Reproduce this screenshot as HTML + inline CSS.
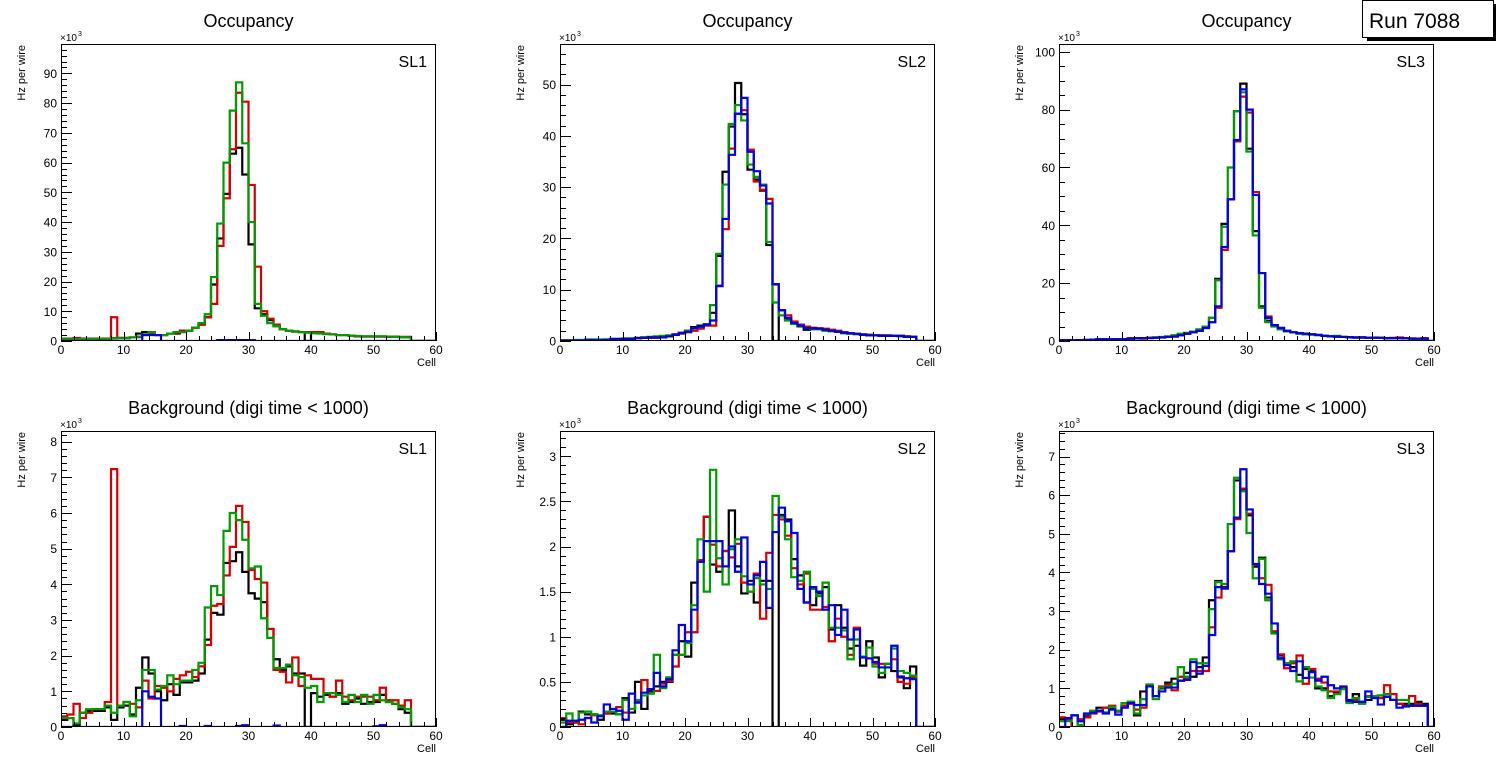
<!DOCTYPE html>
<html><head><meta charset="utf-8">
<style>
html,body{margin:0;padding:0;background:#fff;}
svg{display:block;font-family:"Liberation Sans",sans-serif;}
</style></head>
<body>
<svg id="root" width="1496" height="772" viewBox="0 0 1496 772">
<rect x="0" y="0" width="1496" height="772" fill="#fff"/>
<g>
<rect x="1367" y="37" width="129" height="4" fill="#000"/>
<rect x="1493" y="4" width="3" height="37" fill="#000"/>
<rect x="1362.5" y="0.5" width="131" height="37" fill="#fff" stroke="#000" stroke-width="1"/>
<text x="1369" y="28" font-size="21" fill="#000">Run 7088</text>
</g>
</svg>
<script>
// ---- data (values in units of 10^3 Hz per wire, 60 bins of Cell) ----
const occSL1Black=[0.7,0.7,0.7,0.7,0.7,0.7,0.7,0.7,0.9,1,1,1.2,2.5,3,3,2,2,2.5,2.5,3,3.5,4.5,5.5,8,19,34.5,49.5,63,65,56,32.5,11,9,7,5,4,3.5,3.2,3,0,2.8,2.6,2.4,2.2,2,2,1.8,1.6,1.5,1.5,1.5,1.5,1.4,1.4,1.3,1.2,0,0,0,0];
const occSL1Red=[0.8,0.8,1,0.8,0.8,0.8,0.8,0.8,8,1,1,1.2,1.3,2,2.5,2,2,2.5,2.8,3.5,3.5,4.5,5.5,8,12.5,32,48,64.5,83.5,80.5,52.5,25,10,7.5,5.5,4,3.5,3.2,3,3,3,3,2.5,2.2,2,2,1.8,1.6,1.5,1.5,1.5,1.5,1.4,1.5,1.4,1.4,0,0,0,0];
const occSL1Green=[0.7,0.7,0.7,0.7,0.7,0.7,0.7,0.7,1,1,1,1.2,1.5,2.2,3,2,2,2.5,3,3,3.5,4.5,6,9,21.5,39.5,60,77.5,87,66.5,40,12.5,8.5,6,5,4,3.5,3.2,3,2.8,2.6,2.5,2.3,2.2,2,2,1.8,1.7,1.6,1.6,1.6,1.6,1.5,1.4,1.3,1.2,0,0,0,0];
const occSL1Blue=[0,0,0,0,0,0,0,0,0,0,0,0,0,2,2,2,0,0,0,0,0,0,0,0,0,0.3,0.3,0.3,0.3,0.3,0.3,0,0,0,0,0,0,0,0,0,0,0,0,0,0,0,0,0,0,0,0,0,0,0,0,0,0,0,0,0];

const occSL2Black=[0.1,0.1,0.1,0.1,0.2,0.2,0.2,0.3,0.4,0.4,0.5,0.5,0.6,0.7,0.7,0.8,0.9,1,1.3,1.6,2,2.7,3,3.2,5.5,16.6,33,41.8,50.3,44.2,33.4,31.5,29.3,18.7,0,6,4.3,3.5,3,2.2,2.3,2.3,2.2,2.1,1.9,1.7,1.5,1.4,1.3,1.2,1.1,1.1,1.1,1,1,0.9,0.8,0,0,0];
const occSL2Red=[0.1,0.1,0.1,0.1,0.2,0.2,0.2,0.2,0.3,0.4,0.4,0.5,0.5,0.6,0.6,0.6,0.8,1,1.3,1.4,1.7,2,2.4,3,3,10.8,21.8,37.5,44.3,45,37.3,31.1,29.5,27.7,11,6,5,3.8,3.2,2.8,2.6,2.5,2.4,2.2,2,1.7,1.5,1.4,1.3,1.2,1.1,1.1,1,1,1,0.9,0.8,0,0,0];
const occSL2Green=[0.1,0.1,0.2,0.2,0.3,0.3,0.3,0.3,0.4,0.4,0.5,0.5,0.6,0.7,0.8,0.9,1,1.1,1.2,1.5,2,2.5,2.8,3.3,7,17,30.5,42.3,46,43,34.4,32,30.5,19.3,7.5,5,4,3.3,2.8,2.5,2.4,2.3,2,1.9,1.8,1.5,1.4,1.3,1.2,1.1,1.1,1,1,1,0.9,0.8,0.8,0,0,0];
const occSL2Blue=[0.1,0.1,0.1,0.1,0.2,0.2,0.2,0.2,0.4,0.4,0.4,0.4,0.6,0.6,0.7,0.7,0.7,0.9,1.2,1.6,1.8,2.5,2.8,3.2,4,10.7,23.8,36.3,44.3,47.4,36.9,33.1,30.3,26.8,11.1,6,4.5,3.5,3,2.5,2.5,2.4,2.2,2,1.8,1.6,1.5,1.4,1.2,1.1,1.1,1,1,1,1,0.8,0.8,0,0,0];

const occSL3Black=[0.3,0.3,0.3,0.3,0.4,0.5,0.6,0.6,0.6,0.6,0.6,0.8,0.9,1,1.1,1.2,1.3,1.5,1.8,2.2,2.7,3.2,4,5,8,21.5,40.5,49,79.5,89,66.5,38,12,7,5.5,4.5,3.5,3,2.7,2.5,2.3,2.1,1.8,1.6,1.5,1.4,1.3,1.2,1.2,1.1,1.1,1.1,1,1,1,0.9,0.8,0.8,0.8,0];
const occSL3Red=[0.3,0.2,0.2,0.3,0.4,0.5,0.6,0.6,0.6,0.6,0.6,1,1,0.8,1.1,1.2,1.3,1.5,1.6,2,2.5,3,3.5,4.5,6.5,11.5,31.5,49,69,84.5,79,51.5,23.5,8.5,5.5,4.5,3.5,3,2.7,2.5,2.3,2.1,1.8,1.6,1.5,1.4,1.3,1.2,1.3,1.1,1.2,1.1,1,1.1,1.2,1,0.9,0.8,1,0];
const occSL3Green=[0.3,0.3,0.3,0.3,0.4,0.5,0.6,0.6,0.6,0.6,0.6,0.8,0.9,1,1.1,1.2,1.4,1.6,2,2.5,2.8,3.2,4,5,8,21,39.5,60,79.5,86,65.5,36.5,11.5,6.5,5,4,3.3,3,2.5,2.3,2.2,2,1.8,1.6,1.8,1.4,1.3,1.2,1.2,1.1,1.1,1.1,1,1,1,0.9,0.8,0.8,0.7,0];
const occSL3Blue=[0.3,0.3,0.3,0.3,0.3,0.5,0.6,0.6,0.6,0.6,0.6,0.8,0.9,1,1,1.1,1.2,1.4,1.5,2,2.5,3,3.5,4.5,6.5,12,32.5,49,69.5,87,80,50.5,23.5,8,5.5,4.5,3.5,3,2.7,2.5,2.3,2.1,1.8,1.6,1.5,1.4,1.3,1.2,1.2,1.1,1.1,1.1,1,1,1,0.9,0.8,0.8,0.8,0];

const bkgSL1Black=[0.2,0.25,0.05,0.4,0.45,0.45,0.45,0.55,0.2,0.55,0.6,0.35,1.1,1.95,1.5,1.0,0.75,1.2,0.9,1.25,1.25,1.3,1.5,2.45,3.2,3.15,4.6,4.65,4.9,4.35,3.75,3.6,3.5,2.75,1.9,1.6,1.7,1.5,1.5,0,0.95,0.85,0.9,0.85,0.95,0.65,0.7,0.8,0.65,0.7,0.7,0.9,0.7,0.65,0.5,0.4,0,0,0,0];
const bkgSL1Red=[0.3,0.35,0.65,0.25,0.4,0.5,0.5,0.7,7.23,0.6,0.7,0.65,0.55,1.3,0.8,1.15,1.1,1.0,1.35,1.45,1.55,1.4,1.7,2.3,3.4,3.45,4.25,5.05,6.2,5.75,4.4,4.15,4.05,2.75,1.6,1.55,1.25,1.95,1.15,1.45,1.35,1.35,0.95,0.85,1.3,0.85,0.75,0.85,0.85,0.85,0.75,1.1,0.75,0.75,0.6,0.75,0,0,0,0];
const bkgSL1Green=[0.25,0.25,0.1,0.4,0.5,0.5,0.5,0.6,0.4,0.6,0.7,0.3,0.75,1.6,1.6,1.05,1.15,1.45,1.2,1.3,1.3,1.6,1.8,3.35,3.95,3.7,5.5,6.0,5.8,5.25,4.45,4.5,3.05,2.5,1.65,1.65,1.75,1.45,1.4,1.1,1.15,0.7,0.95,0.95,0.9,0.7,0.9,0.7,0.9,0.65,0.9,0.75,0.7,0.65,0.55,0.5,0,0,0,0];
const bkgSL1Blue=[0,0,0,0,0,0,0,0,0,0,0,0,0,1.0,0.85,0.8,0,0,0,0.03,0,0,0,0.03,0,0,0,0,0.03,0.05,0,0,0,0,0.04,0,0,0,0,0,0,0,0,0,0,0,0,0,0,0,0.02,0.05,0,0,0,0,0,0,0,0];

const bkgSL2Black=[0.08,0.03,0.05,0.17,0.14,0.14,0.08,0.15,0.15,0.14,0.32,0.16,0.5,0.2,0.4,0.45,0.5,0.5,0.8,0.95,0.78,1.6,1.85,2.33,1.8,1.72,1.95,2.4,1.78,1.48,1.62,1.38,1.62,1.62,0,2.35,2.3,1.86,1.68,1.38,1.35,1.48,1.55,1.08,1.35,1.1,0.87,0.9,0.68,0.95,0.77,0.55,0.7,0.62,0.55,0.43,0.67,0,0,0];
const bkgSL2Red=[0.1,0.05,0.05,0.03,0.1,0.13,0.12,0.15,0.2,0.22,0.16,0.2,0.28,0.52,0.38,0.4,0.48,0.51,0.67,0.8,1.05,1.05,1.85,2.33,2.02,1.78,1.95,1.88,2.03,1.6,1.5,1.7,1.2,1.93,2.35,2.3,2.12,1.76,1.58,1.7,1.3,1.3,1.33,0.95,1.2,1.0,0.8,1.1,0.78,0.76,0.7,0.7,0.66,0.75,0.5,0.48,0.55,0,0,0];
const bkgSL2Green=[0.05,0.15,0.07,0.16,0.17,0.14,0.13,0.17,0.17,0.14,0.3,0.2,0.3,0.35,0.37,0.8,0.43,0.55,0.8,0.8,0.93,1.35,2.08,1.5,2.85,1.87,1.58,1.97,2.08,1.67,1.5,1.65,1.58,1.53,2.56,2.33,2.08,1.66,1.62,1.72,1.53,1.45,1.6,1.1,1.1,1.07,0.75,0.97,0.78,0.88,0.67,0.6,0.7,0.87,0.62,0.6,0.57,0,0,0];
const bkgSL2Blue=[0,0.07,0.07,0.08,0.1,0.05,0.12,0.25,0.2,0.18,0.08,0.37,0.27,0.38,0.42,0.6,0.45,0.53,0.85,1.13,0.95,1.3,1.83,2.06,2.06,2.06,1.78,2.0,1.72,2.1,1.58,1.68,1.83,1.32,2.16,2.43,2.28,2.15,1.53,1.38,1.55,1.5,1.3,1.35,1.02,1.3,0.97,1.08,0.77,0.76,0.72,0.66,0.66,0.9,0.56,0.54,0.53,0,0,0];

const bkgSL3Black=[0.2,0.2,0.3,0.15,0.3,0.4,0.5,0.5,0.5,0.4,0.55,0.65,0.3,0.92,1.05,0.8,1.0,1.15,1.25,1.2,1.4,1.3,1.55,1.8,3.28,3.78,3.62,4.55,6.38,6.15,5.48,4.15,4.38,3.35,2.45,1.85,1.65,1.55,1.35,1.5,1.45,1.0,1.0,0.8,0.9,1.0,0.7,0.85,0.65,0.7,0.8,0.75,0.85,0.7,0.6,0.6,0.6,0.65,0.6,0];
const bkgSL3Red=[0.25,0.2,0,0.2,0.25,0.35,0.4,0.5,0.55,0.4,0.55,0.6,0.45,0.5,1.05,0.8,1.05,1.1,0.95,1.3,1.25,1.45,1.45,1.45,2.58,3.35,3.6,4.55,5.38,6.17,5.52,4.2,3.85,3.68,2.48,1.88,1.52,1.65,1.85,1.12,1.5,1.25,1.15,0.92,0.92,1.02,0.65,0.7,0.65,0.8,0.8,0.75,1.08,0.85,0.6,0.55,0.8,0.6,0.55,0];
const bkgSL3Green=[0.15,0.15,0.3,0.05,0.33,0.42,0.42,0.38,0.52,0.42,0.62,0.65,0.35,0.72,1.1,0.72,1.02,1.05,1.12,1.55,1.3,1.75,1.65,1.65,3.05,3.75,3.7,5.25,6.45,6.1,5.02,3.85,4.35,3.28,2.42,1.75,1.65,1.7,1.18,1.55,1.28,1.05,0.95,0.75,0.85,0.98,0.62,0.75,0.6,0.78,0.8,0.82,0.85,0.7,0.7,0.7,0.55,0.55,0.55,0];
const bkgSL3Blue=[0,0.23,0.3,0.15,0.35,0.37,0.42,0.35,0.45,0.32,0.5,0.62,0.57,0.57,1.05,0.8,0.92,1.02,1.02,1.2,1.22,1.68,1.38,1.58,2.38,3.62,3.58,4.55,5.42,6.67,5.63,4.22,3.7,3.45,2.68,1.78,1.6,1.45,1.7,1.27,1.42,1.2,1.3,1.08,1.0,1.05,0.68,0.65,0.65,0.92,0.75,0.58,0.78,0.7,0.5,0.53,0.55,0.55,0.55,0];

const xTickLabels=["0","10","20","30","40","50","60"];
const seriesColors=["#000000","#d00000","#009900","#0000dd"];

const NS="http://www.w3.org/2000/svg";
const root=document.getElementById('root');
function mk(tag,attrs,parent){const e=document.createElementNS(NS,tag);for(const k in attrs)e.setAttribute(k,attrs[k]);(parent||root).appendChild(e);return e;}
function fmt(v){return (Math.round(v*100)/100).toString();}

const panels=[
 {id:'occupancy-sl1',title:'Occupancy',sl:'SL1',L:61,R:436,T:44,B:341,ymax:99.9,maj:10,min:2,series:[occSL1Black,occSL1Red,occSL1Green,occSL1Blue]},
 {id:'occupancy-sl2',title:'Occupancy',sl:'SL2',L:560,R:935,T:44,B:341,ymax:57.9,maj:10,min:2,series:[occSL2Black,occSL2Red,occSL2Green,occSL2Blue]},
 {id:'occupancy-sl3',title:'Occupancy',sl:'SL3',L:1059,R:1434,T:44,B:341,ymax:102.7,maj:20,min:5,series:[occSL3Black,occSL3Red,occSL3Green,occSL3Blue]},
 {id:'background-sl1',title:'Background (digi time < 1000)',sl:'SL1',L:61,R:436,T:431,B:727,ymax:8.3,maj:1,min:0.2,series:[bkgSL1Black,bkgSL1Red,bkgSL1Green,bkgSL1Blue]},
 {id:'background-sl2',title:'Background (digi time < 1000)',sl:'SL2',L:560,R:935,T:431,B:727,ymax:3.28,maj:0.5,min:0.1,series:[bkgSL2Black,bkgSL2Red,bkgSL2Green,bkgSL2Blue]},
 {id:'background-sl3',title:'Background (digi time < 1000)',sl:'SL3',L:1059,R:1434,T:431,B:727,ymax:7.66,maj:1,min:0.2,series:[bkgSL3Black,bkgSL3Red,bkgSL3Green,bkgSL3Blue]}
];
const seriesNames=['black','red','green','blue'];

panels.forEach((p,pi)=>{
  const g=mk('g',{});
  
  
  const xs=v=>p.L+(v/60)*(p.R-p.L);
  const ys=v=>p.B-(v/p.ymax)*(p.B-p.T);
  const cx=(p.L+p.R)/2;
  const t=mk('text',{x:cx,y:p.T-17,'font-size':18,'text-anchor':'middle',fill:'#000'},g);
  t.textContent=p.title;
  
  
  const cp=mk('clipPath',{id:'clip'+pi},g);
  mk('rect',{x:p.L,y:p.T,width:p.R-p.L,height:p.B-p.T},cp);
  const hg=mk('g',{'clip-path':'url(#clip'+pi+')'},g);
  p.series.forEach((arr,si)=>{
    let d='M'+xs(0)+','+ys(arr[0]);
    for(let i=0;i<arr.length;i++){
      if(i>0) d+='V'+ys(arr[i]);
      d+='H'+xs(i+1);
    }
    const path=mk('path',{d:d,fill:'none',stroke:seriesColors[si],'stroke-width':2.2,'stroke-linejoin':'miter'},hg);
    
    
  });
  const fr=mk('rect',{x:p.L+0.5,y:p.T+0.5,width:p.R-p.L-1,height:p.B-p.T-1,fill:'none',stroke:'#000','stroke-width':1},g);
  
  
  const xa=mk('g',{},g);
  
  
  for(let v=0;v<=60;v+=2){
    const major=v%10===0;
    const x=Math.round(xs(v))+0.5;
    mk('line',{x1:x,x2:x,y1:p.B,y2:p.B-(major?9:5),stroke:'#000','stroke-width':1},xa);
  }
  xTickLabels.forEach((lab,i)=>{
    const tl=mk('text',{x:xs(i*10),y:p.B+13,'font-size':12,'text-anchor':'middle',fill:'#000'},xa);
    tl.textContent=lab;
    
    
  });
  const xt=mk('text',{x:p.R,y:p.B+25,'font-size':11,'text-anchor':'end',fill:'#000'},xa);
  xt.textContent='Cell';
  
  
  const ya=mk('g',{},g);
  
  
  const nmin=Math.floor(p.ymax/p.min+1e-6);
  const ratio=Math.round(p.maj/p.min);
  for(let k=0;k<=nmin;k++){
    const v=k*p.min;
    const major=k%ratio===0;
    const y=Math.round(ys(v))+0.5;
    mk('line',{x1:p.L,x2:p.L+(major?11:6),y1:y,y2:y,stroke:'#000','stroke-width':1},ya);
    if(major){
      const tl=mk('text',{x:p.L-4,y:ys(v)+4.5,'font-size':12,'text-anchor':'end',fill:'#000'},ya);
      tl.textContent=fmt(v);
      
      
    }
  }
  const ex=mk('text',{x:p.L-1,y:p.T-3,'font-size':10,fill:'#000'},ya);
  ex.textContent='×10';
  
  
  const ex3=mk('text',{x:p.L+17,y:p.T-8,'font-size':7,fill:'#000'},ya);
  ex3.textContent='3';
  
  
  const yt=mk('text',{x:0,y:0,'font-size':11,'text-anchor':'end',fill:'#000',transform:'translate('+(p.L-36)+','+(p.T+1)+') rotate(-90)'},ya);
  yt.textContent='Hz per wire';
  
  
  const sl=mk('text',{x:p.R-9,y:p.T+23,'font-size':16,'text-anchor':'end',fill:'#000'},g);
  sl.textContent=p.sl;
  
  
});
</script>
</body></html>
